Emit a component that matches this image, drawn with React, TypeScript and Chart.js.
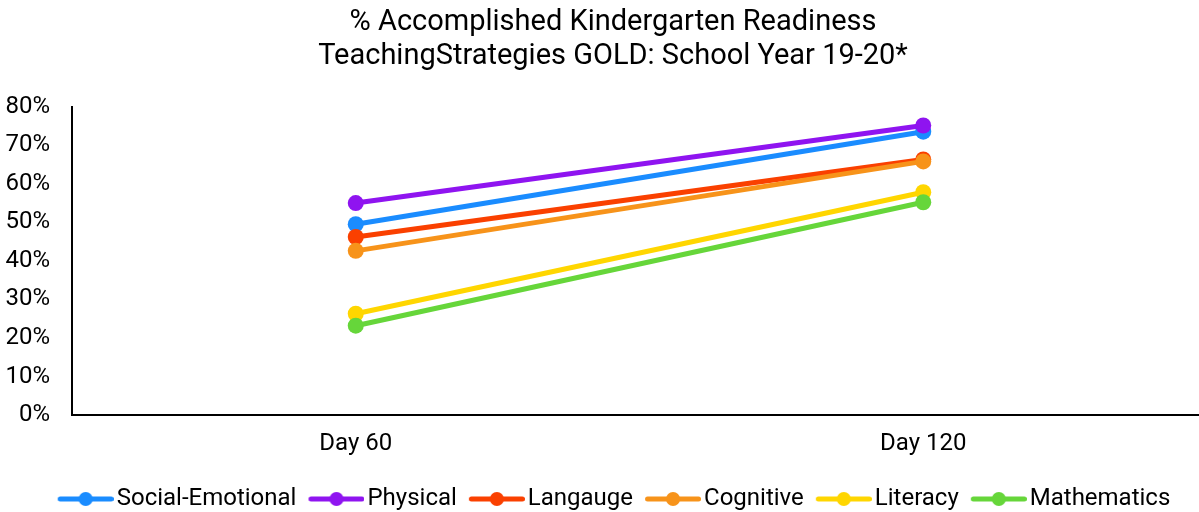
import React, { useEffect, useRef } from "react";
import { Chart, registerables } from "chart.js";

Chart.register(...registerables);

const categories = ["Day 60", "Day 120"];
const seriesNames = ["Social-Emotional", "Physical", "Langauge", "Cognitive", "Literacy", "Mathematics"];
const socialEmotional = [49.5, 73.5];
const physical = [55.0, 75.1];
const language = [46.2, 66.3];
const cognitive = [42.6, 65.8];
const literacy = [26.3, 57.8];
const mathematics = [23.2, 55.2];
const seriesValues = [socialEmotional, physical, language, cognitive, literacy, mathematics];
const seriesColors = ["#1a8cff", "#8f14f0", "#fa4000", "#f7931a", "#ffd600", "#66d63a"];
const yTicks = [0, 10, 20, 30, 40, 50, 60, 70, 80];

const FONT = "Roboto";

function makeLegendIcon(color: string): HTMLCanvasElement {
  const c = document.createElement("canvas");
  c.width = 67;
  c.height = 18;
  const ctx = c.getContext("2d")!;
  ctx.strokeStyle = color;
  ctx.lineWidth = 5;
  ctx.lineCap = "round";
  ctx.beginPath();
  ctx.moveTo(13.5, 9);
  ctx.lineTo(64.5, 9);
  ctx.stroke();
  ctx.fillStyle = color;
  ctx.beginPath();
  ctx.arc(39, 9, 7, 0, Math.PI * 2);
  ctx.fill();
  return c;
}

export default function App() {
  const ref = useRef<HTMLCanvasElement | null>(null);

  useEffect(() => {
    if (!ref.current) return;
    const icons = seriesColors.map(makeLegendIcon);
    const chart = new Chart(ref.current, {
      type: "line",
      data: {
        labels: categories,
        datasets: seriesNames.map((name, i) => ({
          label: name,
          data: seriesValues[i],
          borderColor: seriesColors[i],
          backgroundColor: seriesColors[i],
          pointBackgroundColor: seriesColors[i],
          pointBorderWidth: 0,
          pointRadius: 8,
          borderWidth: 5,
          fill: false,
          order: seriesNames.length - 1 - i,
        })),
      },
      options: {
        responsive: false,
        animation: false,
        devicePixelRatio: 1,
        layout: { autoPadding: false, padding: { left: 5, right: 18, top: 0, bottom: -9 } },
        plugins: {
          tooltip: { enabled: false },
          title: {
            display: true,
            text: ["% Accomplished Kindergarten Readiness", "TeachingStrategies GOLD: School Year 19-20*"],
            color: "#000",
            font: { family: FONT, size: 29, weight: "normal", lineHeight: 1.2 },
            padding: { top: 5, bottom: 32 },
          },
          legend: {
            display: true,
            position: "bottom",
            labels: {
              usePointStyle: true,
              pointStyleWidth: 49,
              boxHeight: 18,
              padding: 10,
              color: "#000",
              font: { family: FONT, size: 24 },
              generateLabels: () =>
                seriesNames.map((name, i) => ({
                  text: name,
                  fillStyle: seriesColors[i],
                  strokeStyle: seriesColors[i],
                  lineWidth: 0,
                  hidden: false,
                  datasetIndex: i,
                  pointStyle: icons[i],
                  fontColor: "#000",
                })),
            },
          },
        },
        scales: {
          x: {
            type: "category",
            offset: true,
            grid: { display: false, drawTicks: false },
            border: { display: true, color: "#000", width: 2 },
            ticks: { color: "#000", font: { family: FONT, size: 24 }, padding: 14 },
            afterFit: (s: any) => {
              s.height += 5;
            },
          },
          y: {
            min: 0,
            max: 80,
            afterBuildTicks: (axis: any) => {
              axis.ticks = yTicks.map((v) => ({ value: v }));
            },
            grid: { display: false, drawTicks: false },
            border: { display: true, color: "#000", width: 2 },
            ticks: {
              color: "#000",
              font: { family: FONT, size: 24 },
              padding: 22,
              callback: (v: any) => v + "%",
            },
            afterFit: (s: any) => {
              s.width = 67;
            },
          },
          y2: {
            position: "right",
            display: true,
            grid: { display: false, drawTicks: false },
            border: { display: false },
            ticks: { display: false },
            afterFit: (s: any) => {
              s.width = 14;
            },
          },
        },
      },
    });
    return () => chart.destroy();
  }, []);

  return (
    <div style={{ position: "absolute", left: 0, top: 0, width: 1199, height: 512, overflow: "hidden", background: "#fff" }}>
      <canvas ref={ref} width={1239} height={512} style={{ display: "block" }} />
    </div>
  );
}
